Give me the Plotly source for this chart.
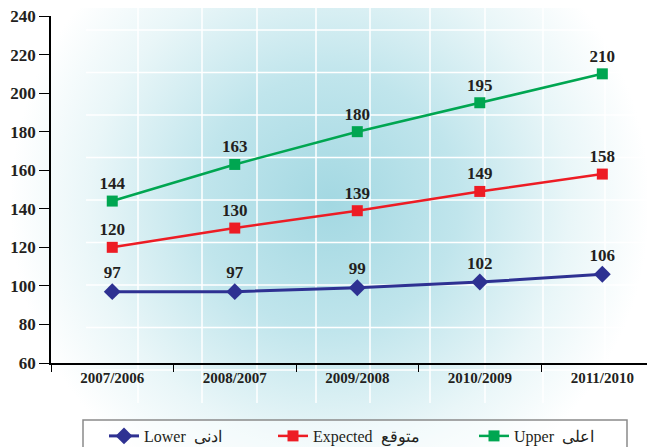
import base64
import plotly.graph_objects as go

categories = ["2007/2006", "2008/2007", "2009/2008", "2010/2009", "2011/2010"]
lower = [97, 97, 99, 102, 106]
expected = [120, 130, 139, 149, 158]
upper = [144, 163, 180, 195, 210]

# figure is drawn inside the page's default 8px body margin
W, H = 647, 439
L, R, T, B = 43, 0, 8, 84
pw, ph = W - L - R, H - T - B


def px(x):
    return (x - L) / pw


def py(y):
    return (H - B - y) / ph


# decorative background: radial teal glow with a white grid
vlines = "".join(
    f'<line x1="{x}" y1="0" x2="{x}" y2="395" stroke="white" stroke-width="1.5"/>'
    for x in [130, 194, 249, 308, 362, 422, 477, 535, 597]
)
hlines = "".join(
    f'<line x1="78" y1="{22 + 42.5 * k}" x2="{W}" y2="{22 + 42.5 * k}" stroke="white" stroke-width="1.5"/>'
    for k in range(9)
)
svg = f'''<svg xmlns="http://www.w3.org/2000/svg" width="{W}" height="{H}" viewBox="0 0 {W} {H}" preserveAspectRatio="none">
<defs><radialGradient id="g" gradientUnits="userSpaceOnUse" cx="322" cy="195" r="320">
<stop offset="0" stop-color="#a3d8e2"/>
<stop offset="0.4" stop-color="#c0e5ec"/>
<stop offset="0.75" stop-color="#e9f6f8"/>
<stop offset="1" stop-color="#ffffff"/>
</radialGradient></defs>
<rect x="0" y="0" width="{W}" height="{H}" fill="url(#g)"/>
{vlines}{hlines}
</svg>'''
src = "data:image/svg+xml;base64," + base64.b64encode(svg.encode()).decode()

label_font = dict(family="Liberation Serif", size=17, color="#231f20", weight="bold")

fig = go.Figure()
fig.add_trace(go.Scatter(
    x=categories, y=lower, name="Lower  ادنى", mode="lines+markers+text", legend="legend",
    line=dict(color="#2e3192", width=3),
    marker=dict(symbol="diamond", size=13, color="#2e3192"),
    text=[str(v) for v in lower], textposition="top center", textfont=label_font,
))
fig.add_trace(go.Scatter(
    x=categories, y=expected, name="Expected  متوقع", mode="lines+markers+text", legend="legend2",
    line=dict(color="#ed1c24", width=2.5),
    marker=dict(symbol="square", size=11, color="#ed1c24"),
    text=[str(v) for v in expected], textposition="top center", textfont=label_font,
))
fig.add_trace(go.Scatter(
    x=categories, y=upper, name="Upper  اعلى", mode="lines+markers+text", legend="legend3",
    line=dict(color="#00a651", width=2.5),
    marker=dict(symbol="square", size=11, color="#00a651"),
    text=[str(v) for v in upper], textposition="top center", textfont=label_font,
))

legend_font = dict(family="Liberation Serif", size=16, color="#231f20")
legend_common = dict(orientation="h", yanchor="top", xanchor="left", y=py(411),
                     bgcolor="rgba(0,0,0,0)", borderwidth=0, font=legend_font)

fig.update_layout(
    width=W, height=H,
    margin=dict(l=L, r=R, t=T, b=B, autoexpand=False),
    paper_bgcolor="white", plot_bgcolor="rgba(0,0,0,0)",
    images=[dict(source=src, xref="paper", yref="paper",
                 x=-L / pw, y=1 + T / ph, sizex=W / pw, sizey=H / ph,
                 xanchor="left", yanchor="top", sizing="stretch", layer="below")],
    shapes=[dict(type="rect", xref="paper", yref="paper",
                 x0=px(75), x1=px(619), y0=py(446), y1=py(412),
                 line=dict(color="#8a8a8a", width=1.5), fillcolor="rgba(255,255,255,0.45)",
                 layer="below")],
    xaxis=dict(type="category", range=[-0.5, 4.43], showgrid=False, zeroline=False,
               showline=True, linecolor="black", linewidth=1.5,
               ticks="outside", ticklen=7, tickcolor="black", tickson="boundaries",
               tickfont=dict(family="Liberation Serif", size=15, color="#231f20", weight="bold")),
    yaxis=dict(range=[60, 240], dtick=20, showgrid=False, zeroline=False,
               showline=True, linecolor="black", linewidth=1.5,
               ticks="outside", ticklen=10, tickcolor="black",
               ticklabeloverflow="allow",
               tickfont=dict(family="Liberation Serif", size=17, color="#231f20", weight="bold")),
    showlegend=True,
    legend=dict(x=px(96), **legend_common),
    legend2=dict(x=px(265), **legend_common),
    legend3=dict(x=px(466), **legend_common),
)

fig.write_html("out.html")
